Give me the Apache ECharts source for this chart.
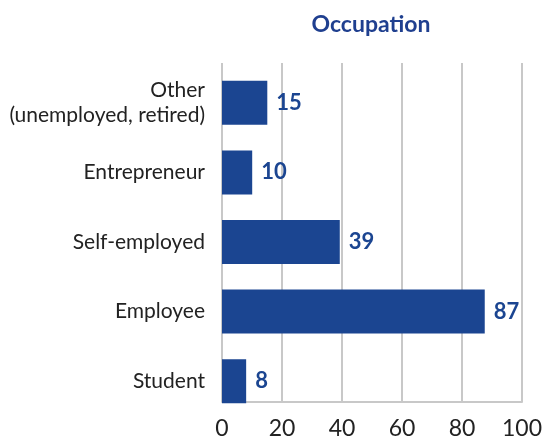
<!DOCTYPE html>
<html><head><meta charset="utf-8">
<script src="https://cdn.jsdelivr.net/npm/echarts@6/dist/echarts.min.js"></script>
<style>html,body{margin:0;padding:0;background:#fff}#c{width:545px;height:441px}</style>
</head><body><div id="c"></div>
<script>
const categories = ["Student", "Employee", "Self-employed", "Entrepreneur", "Other\n(unemployed, retired)"];
const values = [8, 87, 39, 10, 15];
const xTicks = [0, 20, 40, 60, 80, 100];
const title = "Occupation";

const FONT = "Lato";
const chart = echarts.init(document.getElementById('c'), null, {renderer: 'canvas'});
chart.setOption({
  animation: false,
  title: {text: title, left: 366, top: 8, textAlign: 'center',
    textStyle: {fontFamily: FONT, fontWeight: 'bold', fontSize: 23, color: '#1F3F8F'}},
  grid: [
    {left: 222, right: 21, top: 63, bottom: 39, containLabel: false},
    {left: 222, right: 21, top: 68, bottom: 25, containLabel: false}
  ],
  xAxis: [
    {gridIndex: 0, type: 'value', min: xTicks[0], max: xTicks[xTicks.length-1], interval: 20,
     axisLine: {show: true, lineStyle: {color: '#c8c8c8', width: 2}},
     axisTick: {show: false},
     splitLine: {show: true, lineStyle: {color: '#c8c8c8', width: 2}},
     axisLabel: {fontFamily: FONT, fontSize: 23, color: '#222', margin: 15}},
    {gridIndex: 1, type: 'value', min: xTicks[0], max: xTicks[xTicks.length-1], show: false}
  ],
  yAxis: [
    {gridIndex: 0, type: 'category', data: categories, show: false},
    {gridIndex: 1, type: 'category', data: categories,
     axisLine: {show: false}, axisTick: {show: false},
     axisLabel: {fontFamily: FONT, fontSize: 21, color: '#222', margin: 17, align: 'right', lineHeight: 25}}
  ],
  series: [{
    type: 'bar', xAxisIndex: 1, yAxisIndex: 1, data: values, barWidth: 44,
    itemStyle: {color: '#1B4591'},
    label: {show: true, position: 'right', distance: 9, fontFamily: FONT, fontWeight: 'bold', fontSize: 22, color: '#1B4591'}
  }]
});
</script></body></html>
